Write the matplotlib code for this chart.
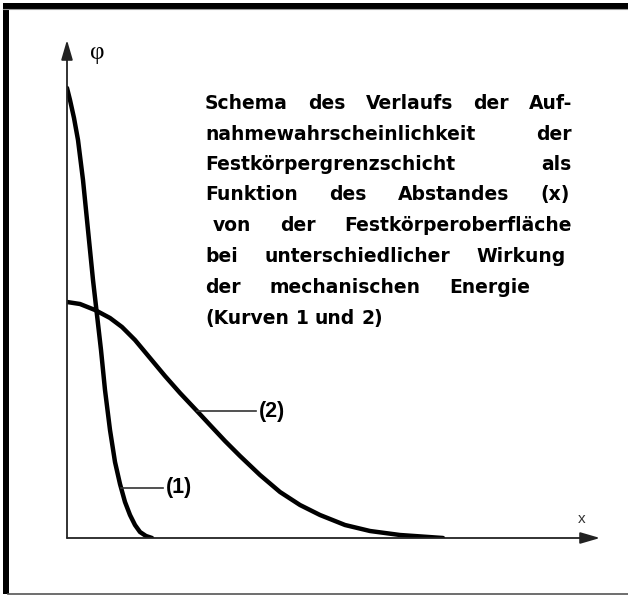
import matplotlib.pyplot as plt
from matplotlib.patches import Rectangle

# curve values (x distance, phi)
x1 = [0, 0.3, 0.7, 1.1, 1.6, 2.1, 2.6, 3.0, 3.4, 3.8, 4.3, 4.8, 5.3, 5.8, 6.3, 6.8, 7.3, 7.9, 8.5]
phi1 = [4.50, 4.38, 4.20, 3.98, 3.58, 3.08, 2.58, 2.23, 1.88, 1.48, 1.08, 0.76, 0.54, 0.36,
        0.23, 0.13, 0.06, 0.02, 0.0]

x2 = [0, 1.3, 2.8, 4.3, 5.5, 6.8, 8.3, 9.8, 11.3, 13.0, 14.3, 15.8, 17.3, 19.3, 21.3, 23.3,
      25.3, 27.8, 30.3, 33.3, 37.6]
phi2 = [2.36, 2.34, 2.28, 2.20, 2.11, 1.98, 1.80, 1.62, 1.45, 1.27, 1.13, 0.97, 0.82, 0.63,
        0.46, 0.33, 0.23, 0.13, 0.07, 0.03, 0.0]

text_lines = [
    "Schema des Verlaufs der Auf-",
    "nahmewahrscheinlichkeit der",
    "Festkörpergrenzschicht als",
    "Funktion des Abstandes (x)",
    "von der Festkörperoberfläche",
    "bei unterschiedlicher Wirkung",
    "der mechanischen Energie",
    "(Kurven 1 und 2)",
]

W, H = 628, 596
fig = plt.figure(figsize=(W / 100, H / 100), dpi=100)
fig.patch.set_facecolor('white')


def fx(px):
    return px / W


def fy(py):
    return 1 - py / H


# frame around the picture
fig.add_artist(Rectangle((fx(3), fy(594)), fx(6), 591 / H, transform=fig.transFigure,
                         facecolor='black', edgecolor='none'))
fig.add_artist(Rectangle((fx(3), fy(8.5)), 1, 5.5 / H, transform=fig.transFigure,
                         facecolor='black', edgecolor='none'))
fig.add_artist(plt.Line2D([fx(3), 1], [fy(9), fy(9)], transform=fig.transFigure,
                          color='#999999', lw=0.8))
fig.add_artist(plt.Line2D([fx(8), 1], [fy(594), fy(594)], transform=fig.transFigure,
                          color='#555555', lw=1.2))

ax = fig.add_axes([fx(67), fy(538), (600 - 67) / W, (538 - 40) / H])
ax.set_xlim(0, 53.3)
ax.set_ylim(0, 4.98)
ax.axis('off')

# axes with arrows
arrow = dict(arrowstyle='-|>,head_length=1.2,head_width=0.35', lw=1.3, color='#222222',
             mutation_scale=10, shrinkA=0, shrinkB=0)
ax.annotate('', xy=(1, 0), xytext=(0, 0), xycoords='axes fraction', arrowprops=arrow)
ax.annotate('', xy=(0, 1), xytext=(0, 0), xycoords='axes fraction', arrowprops=arrow)

ax.plot(x1, phi1, color='black', lw=3.2, solid_capstyle='round', solid_joinstyle='round')
ax.plot(x2, phi2, color='black', lw=3.2, solid_capstyle='round', solid_joinstyle='round')

# curve labels
ax.plot([5.4, 9.6], [0.50, 0.50], color='#333333', lw=1.2)
ax.text(9.9, 0.50, '(1)', fontsize=15.5, fontweight='bold', family='Liberation Sans',
        va='center', ha='left')
ax.plot([13.0, 18.9], [1.27, 1.27], color='#333333', lw=1.2)
ax.text(19.2, 1.27, '(2)', fontsize=15.5, fontweight='bold', family='Liberation Sans',
        va='center', ha='left')

fig.text(fx(90), fy(53), 'φ', fontsize=18, family='Liberation Serif', va='center', ha='left')
fig.text(fx(578), fy(519), 'x', fontsize=11, family='Liberation Sans', color='#333333',
         va='center', ha='left')

# justified description block
renderer = fig.canvas.get_renderer()
line_y = [103, 134, 164, 194, 225, 256, 287, 318]
line_left = [205, 205, 205, 205, 213, 205, 205, 205]
line_right = [572, 572, 572, 570, 572, 566, 530, None]
for txt, py, xl, xr in zip(text_lines, line_y, line_left, line_right):
    words = txt.split()
    arts = [fig.text(0, fy(py + 6), w, fontsize=13.5, fontweight='bold',
                     family='DejaVu Sans', va='baseline', ha='left') for w in words]
    widths = [a.get_window_extent(renderer).width for a in arts]
    if xr is None or len(words) == 1:
        space = arts[0].get_fontsize() * 0.35 * 100 / 72
    else:
        space = (xr - xl - sum(widths)) / (len(words) - 1)
    x = xl
    for a, w in zip(arts, widths):
        a.set_x(fx(x))
        x += w + space

plt.savefig('out.png', dpi=100)
